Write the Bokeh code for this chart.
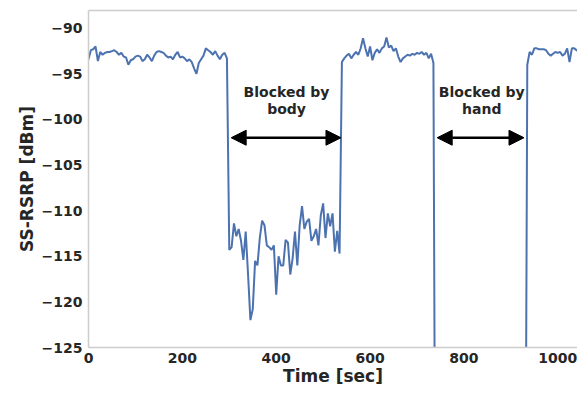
import numpy as np
from bokeh.plotting import figure
from bokeh.models import (Range1d, Arrow, NormalHead, LinearAxis, FixedTicker,
                          CustomJSTickFormatter, ColumnDataSource)
from bokeh.core.properties import value
from bokeh.embed import file_html
from bokeh.resources import INLINE

# ---------------- data ----------------
step_sec = 5
# line of sight, 0..295 s
los_1 = [-93.4, -92.4, -92.3, -92.0, -93.6, -92.6, -92.9, -92.7, -92.6, -92.6,
         -92.5, -92.4, -92.6, -92.9, -92.7, -93.1, -93.2, -94.0, -93.5, -93.4,
         -93.1, -93.0, -93.1, -93.6, -93.4, -92.9, -93.2, -93.6, -93.0, -92.6,
         -92.5, -92.6, -92.7, -93.0, -93.2, -93.1, -93.4, -92.9, -92.6, -93.2,
         -93.1, -93.3, -93.6, -93.4, -93.7, -94.4, -95.0, -93.8, -93.4, -93.0,
         -92.2, -92.4, -92.6, -92.9, -92.5, -93.0, -93.4, -92.9, -92.7, -93.3]
# blocked by body, 300..535 s
body_block = [-114.3, -114.0, -111.4, -112.8, -112.0, -113.3, -115.4, -112.3, -117.0, -122.0,
              -120.8, -115.5, -116.0, -113.0, -111.1, -111.6, -113.8, -114.0, -114.3, -113.8,
              -119.2, -115.0, -116.0, -116.0, -113.2, -113.5, -117.0, -115.2, -112.3, -116.0,
              -111.6, -109.5, -112.0, -111.2, -110.9, -113.3, -112.8, -112.0, -113.8, -110.5,
              -109.2, -113.0, -110.3, -111.7, -110.3, -114.5, -112.2, -114.7]
# line of sight, 540..735 s
los_2 = [-93.7, -93.3, -93.0, -92.8, -93.3, -92.9, -92.6, -92.9, -92.2, -91.1,
         -92.2, -93.1, -92.0, -93.5, -92.7, -92.3, -92.7, -92.2, -92.0, -91.0,
         -92.1, -91.9, -92.5, -92.2, -93.1, -93.7, -93.3, -93.1, -92.9, -93.0,
         -92.8, -92.9, -92.7, -92.8, -92.6, -92.9, -92.7, -93.3, -92.8, -93.8]
# blocked by hand, 740..930 s (below the axis floor)
hand_block = [-160, -161, -159, -160, -162, -160, -159, -161, -160, -160,
              -158, -160, -161, -160, -159, -160, -162, -160, -161, -160,
              -159, -160, -160, -161, -160, -159, -160, -162, -160, -161,
              -160, -159, -160, -160, -161, -160, -159, -160, -160]
# line of sight, 935..1050 s
los_3 = [-94.0, -92.6, -92.9, -92.2, -92.2, -92.3, -92.3, -92.3, -92.4, -92.8,
         -93.0, -92.8, -92.6, -92.7, -92.6, -93.0, -92.8, -92.2, -93.7, -92.2,
         -92.2, -92.4, -92.6, -92.5]

rsrp_dbm = los_1 + body_block + los_2 + hand_block + los_3
time_sec = [i * step_sec for i in range(len(rsrp_dbm))]

x_ticks = [0, 200, 400, 600, 800, 1000]
y_ticks = [-125, -120, -115, -110, -105, -100, -95, -90]

annot_text = ["Blocked by\nbody", "Blocked by\nhand"]
annot_x = [422, 838]
annot_y = [-97.9, -97.9]
arrow_x_start = [304, 743]
arrow_x_end = [538, 928]
arrow_y = [-102.0, -102.0]

x_label = "Time [sec]"
y_label = "SS-RSRP [dBm]"

# ---------------- figure ----------------
FONT = "DejaVu Sans"
TXT = "#262626"
SPINE = "#cccccc"

p = figure(width=577, height=388, output_backend="svg", toolbar_location=None,
           x_range=Range1d(0, 1042), y_range=Range1d(-125, -88.05),
           min_border_left=88, min_border_right=0, min_border_top=10, min_border_bottom=0)
p.outline_line_color = None
p.xgrid.visible = False
p.ygrid.visible = False
p.background_fill_color = "white"
p.border_fill_color = "white"

for ax in (p.xaxis[0], p.yaxis[0]):
    ax.axis_line_color = SPINE
    ax.axis_line_width = 1.5
    ax.major_tick_line_color = None
    ax.minor_tick_line_color = None
    ax.major_tick_out = 0
    ax.major_label_text_font = FONT
    ax.major_label_text_font_style = "bold"
    ax.major_label_text_font_size = "14px"
    ax.major_label_text_color = TXT
    ax.axis_label_text_font = FONT
    ax.axis_label_text_font_style = "bold"
    ax.axis_label_text_font_size = "17px"
    ax.axis_label_text_color = TXT

p.xaxis.ticker = FixedTicker(ticks=x_ticks)
p.yaxis.ticker = FixedTicker(ticks=y_ticks)
p.yaxis.formatter = CustomJSTickFormatter(
    code="return tick < 0 ? '\u2212' + Math.abs(tick) : '' + tick;")
p.yaxis.axis_label = y_label
p.xaxis.axis_label = x_label
p.xaxis.major_label_standoff = 5
p.xaxis.axis_label_standoff = 0
p.yaxis.major_label_standoff = 6
p.yaxis.axis_label_standoff = 2

top = LinearAxis(ticker=FixedTicker(ticks=[]), axis_line_color=SPINE, axis_line_width=1.5,
                 major_tick_line_color=None, minor_tick_line_color=None,
                 major_label_text_font_size="0px", major_label_standoff=0)
p.add_layout(top, "above")

src = ColumnDataSource(dict(t=time_sec, v=rsrp_dbm))
p.line("t", "v", source=src, line_color="#4c72b0", line_width=2)

for xs, xe, ya in zip(arrow_x_start, arrow_x_end, arrow_y):
    p.add_layout(Arrow(x_start=xs, x_end=xe, y_start=ya, y_end=ya,
                       line_color="black", line_width=2.5,
                       start=NormalHead(size=15, fill_color="black", line_color="black"),
                       end=NormalHead(size=15, fill_color="black", line_color="black")))

tsrc = ColumnDataSource(dict(x=annot_x, y=annot_y, text=annot_text))
p.text("x", "y", text="text", source=tsrc, text_font=value(FONT), text_font_style="bold",
       text_font_size="14px", text_color=TXT, text_align="center",
       text_baseline="middle", text_line_height=1.05)

open("out.html", "w").write(file_html(p, INLINE))
